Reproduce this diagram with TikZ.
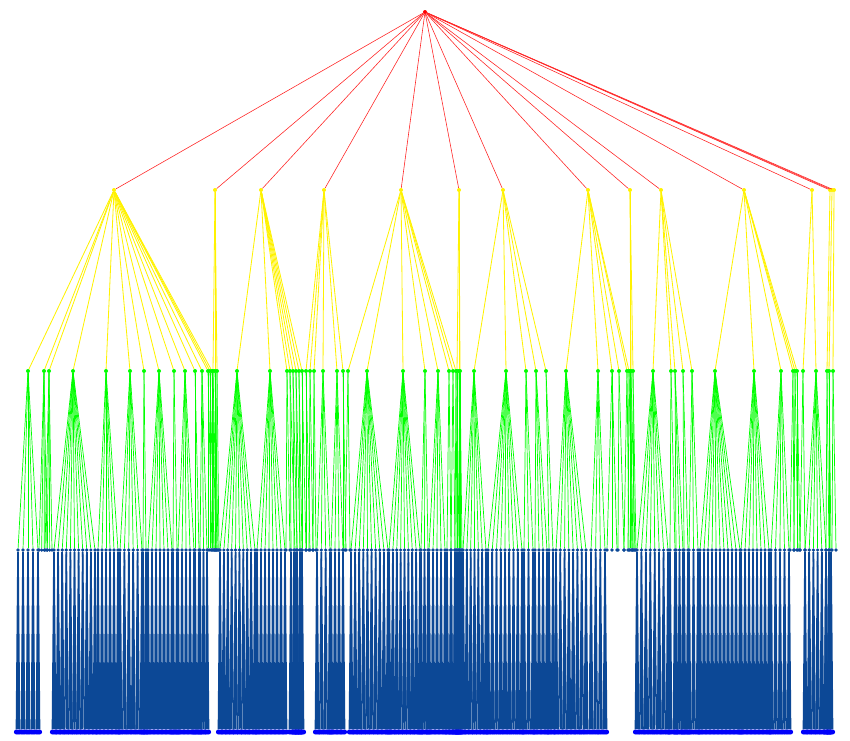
\documentclass[tikz,border=0pt]{standalone}
\usepackage{tikz}
\definecolor{lime}{RGB}{0,255,0}
\definecolor{navy}{RGB}{12,72,150}
\definecolor{leafblue}{RGB}{0,0,250}
\colorlet{redge}{red!85}
\tikzstyle{dot}=[circle,inner sep=0pt]
\tikzstyle{root}=[dot,fill=red,minimum size=1.2mm]
\tikzstyle{lone}=[dot,fill=yellow,minimum size=1.2mm]
\tikzstyle{ltwo}=[dot,fill=lime,minimum size=1.2mm]
\tikzstyle{lthree}=[dot,fill=navy,minimum size=1.1mm]
\tikzstyle{lfour}=[dot,fill=leafblue,minimum size=1.5mm]

\begin{document}
\begin{tikzpicture}[x=0.3mm, y=-0.3mm]
  \useasboundingbox (0,0) rectangle (850,740);

  \node[root] (r) at (425,12) {};
  \foreach \x [count=\i] in {114,215,261,324,401,459,503,588,630,661,744,812,830,832,834}{
    \node[lone] (a\i) at (\x,190) {};
    \draw[redge, line width=0.5pt] (r) -- (a\i);
  }

  % x / parent / first child / last child / children / has leaves
  \foreach \x/\p/\lo/\hi/\n/\f [count=\k] in {
    28/1/18/38/5/1, 44/1/39/47/4/0, 49/1/45/52/4/0, 73/1/54/95/11/1,
    106/1/98/118/6/1, 130/1/120/142/6/1, 144/1/143/146/2/1, 159/1/148/172/7/1,
    174/1/173/177/2/1, 185/1/178/194/5/1, 195/1/195/199/2/1, 202/1/200/207/3/1,
    208/1/208/212/2/0, 210/1/210/214/2/0, 212/1/212/216/2/0,
    213/2/214/217/2/0, 215/2/215/218/2/0, 217/2/216/219/2/0,
    237/3/220/255/10/1, 270/3/257/285/8/1, 287/3/286/290/2/0, 290/3/291/295/2/1,
    293/3/294/297/2/1, 296/3/297/300/2/1, 299/3/300/302/2/1, 302/3/302/306/2/0,
    306/4/306/310/2/0, 310/4/309/313/2/0, 314/4/313/316/2/0, 323/4/317/330/4/1,
    337/4/331/343/4/1, 343/4/343/346/2/0,
    348/5/345/350/2/0, 367/5/351/388/10/1, 403/5/389/420/9/1, 425/5/421/428/3/1,
    438/5/429/445/5/1, 449/5/447/451/2/1, 453/5/451/455/2/1, 456/5/455/457/2/1,
    457/6/457/459/2/1, 459/6/459/461/2/1, 460/6/460/462/2/0,
    474/7/463/486/7/1, 506/7/488/522/9/1, 526/7/524/533/3/1, 536/7/535/547/4/1,
    546/7/549/553/2/1,
    566/8/556/586/8/1, 598/8/591/605/4/1, 612/8/607/617/3/0, 619/8/618/624/2/0,
    627/8/624/629/2/0, 629/8/628/632/2/0,
    630/9/630/633/2/0, 631/9/632/635/2/0, 633/9/634/636/2/0,
    653/10/637/668/8/1, 671/10/670/675/2/1, 675/10/676/683/3/1, 683/10/684/688/2/1,
    692/10/689/698/3/1,
    715/11/700/740/11/1, 754/11/741/769/8/1, 781/11/771/789/5/1, 793/11/790/794/2/0,
    795/11/794/798/2/0, 797/11/797/800/2/0,
    803/12/800/805/2/0, 816/12/805/826/6/1,
    827/13/826/829/2/1, 829/14/829/831/2/1, 833/15/832/836/2/0}{
    \node[ltwo] (b\k) at (\x,371) {};
    \draw[yellow, line width=0.7pt] (a\p) -- (b\k);
    \foreach \j in {1,...,\n}{
      \pgfmathsetmacro\cx{\lo+(\hi-\lo)*(\j-1)/(\n-1)}
      \node[lthree] (c\k-\j) at (\cx,550) {};
      \draw[lime, line width=0.6pt] (b\k) -- (c\k-\j);
      \ifnum\f=1
        \foreach \m in {-1,0,1}{
          \node[lfour] (d\k-\j-\m) at (\cx+1.6*\m,732) {};
          \draw[navy, line width=1.3pt] (c\k-\j) -- (d\k-\j-\m);
        }
      \fi
    }
  }
\end{tikzpicture}
\end{document}
